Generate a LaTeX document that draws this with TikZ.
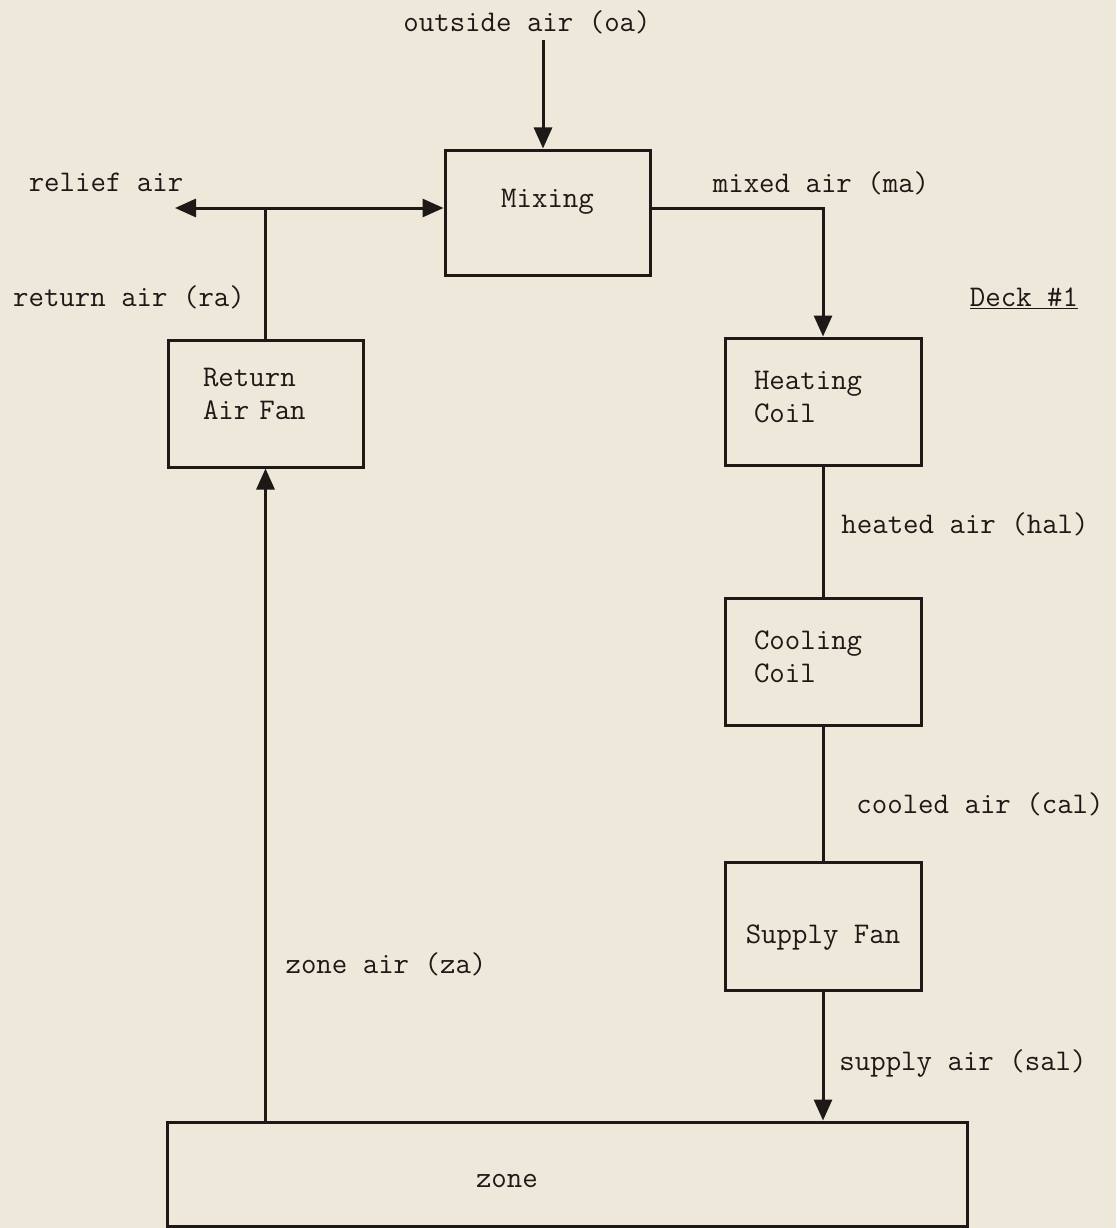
\documentclass[tikz,border=0pt]{standalone}
\usetikzlibrary{arrows.meta, positioning}
\definecolor{paper}{RGB}{237, 232, 217}
\definecolor{ink}{RGB}{28, 25, 22}
\tikzset{
    every node/.style={font=\fontsize{30}{33}\selectfont\ttfamily, text=ink},
    unitbox/.style={draw=ink, line width=3pt},
    coilbox/.style={unitbox, align=left, minimum height=127pt},
    flow/.style={draw=ink, line width=3pt, -{Triangle[length=21pt, width=18pt]}},
    duct/.style={draw=ink, line width=3pt},
}

\begin{document}
\begin{tikzpicture}[x=1pt, y=-1pt]
    \fill[paper] (0, 0) rectangle (1116, 1228);
    \useasboundingbox (0, 0) rectangle (1116, 1228);
    % units
    \node[unitbox, minimum width=205pt, minimum height=125pt,
        text height=20pt, text depth=30pt] (mix) at (547.5, 212.5) {Mixing};
    \node[coilbox, text width=125pt, inner xsep=35pt, text depth=53pt] (rfan)
        at (265.5, 403.5) {Return\\Air Fan};
    \node[coilbox, text width=138pt, inner xsep=29pt, text depth=43pt] (hcoil)
        at (823, 401.5) {Heating\\Coil};
    \node[coilbox, text width=138pt, inner xsep=29pt, text depth=43pt] (ccoil)
        at (823, 662) {Cooling\\Coil};
    \node[unitbox, minimum width=196pt, minimum height=128pt,
        text height=42pt] (sfan) at (823, 926) {Supply Fan};
    \node[unitbox, text width=182pt, inner xsep=309pt, align=left,
        minimum height=104pt, text height=28pt] (zone) at (567, 1174) {zone};
    % stream labels
    \node (oa) at (527, 22) {outside air (oa)};
    \node (relieflbl) at (106, 182) {relief air};
    \node (ra) at (129, 297) {return air (ra)};
    \node (ma) at (821, 183) {mixed air (ma)};
    \node (deck) at (1024, 298) {\underline{Deck \#1}};
    \node (hal) at (965, 524) {heated air (hal)};
    \node (cal) at (980, 804) {cooled air (cal)};
    \node (za) at (386, 964) {zone air (za)};
    \node (sal) at (963, 1063) {supply air (sal)};
    % ducts
    \coordinate (intake) at (543, 40);
    \coordinate (split) at (265.5, 208);
    \coordinate (relief) at (175, 208);
    \draw[flow] (intake) -- (intake |- mix.north);
    \draw[duct] (rfan.north) -- (split);
    \draw[flow] (split) -- (relief);
    \draw[flow] (split) -- (split -| mix.west);
    \draw[flow] (mix.east |- split) -| (hcoil.north);
    \draw[duct] (hcoil.south) -- (ccoil.north);
    \draw[duct] (ccoil.south) -- (sfan.north);
    \draw[flow] (sfan.south) -- (sfan.south |- zone.north);
    \draw[flow] (zone.north -| rfan) -- (rfan.south);
\end{tikzpicture}
\end{document}
